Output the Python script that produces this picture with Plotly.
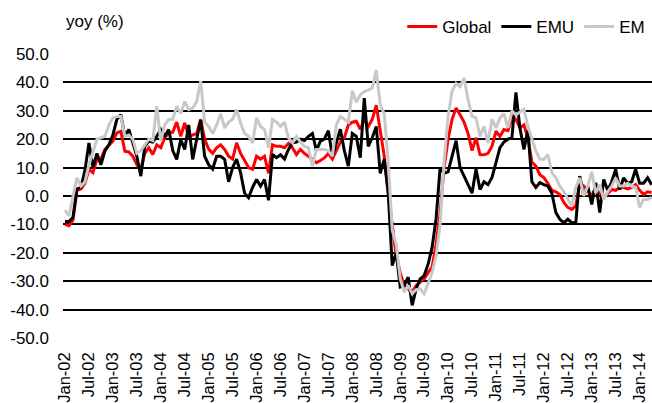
import pandas as pd
import plotly.graph_objects as go

# Monthly year-on-year growth, Jan-02 to Apr-14
months = list(pd.date_range("2002-01-01", periods=148, freq="MS").strftime("%b-%y"))

global_yoy = [
    -10, -10.5, -8.5, 2, 2.5, 4.5, 9.4, 8.2, 12.9, 13, 16.4, 18,
    19.3, 22.2, 22.8, 15.8, 15.5, 14, 11, 9.4, 15, 17, 14.6, 18,
    17, 20.5, 22.2, 22.5, 26, 21, 25.7, 21, 21.5, 22, 27, 20,
    16.5, 15, 17, 18, 16.4, 14, 13, 18.7, 15, 12.5, 10, 9.4,
    14, 13, 14, 8, 18, 17.5, 17.5, 17, 18.5, 17, 14.6, 16.4,
    15, 14, 13, 11.7, 12.5, 13.4, 15, 13, 16, 19, 20.5, 25,
    26, 26.3, 23.5, 26.8, 24.5, 27, 32, 23, 14, 1, -11, -21,
    -27, -31.5, -32.7, -33.8, -31.5, -30.3, -29.2, -27, -25, -17, -6, 10,
    20, 27, 31, 28.6, 26, 22, 16, 20.5, 14.6, 14.5, 15, 17.5,
    22.8, 21, 23.4, 23, 27.5, 27, 24, 25, 20.5, 12, 10.5, 7.5,
    6.5, 4.5, 2, 1.5, 0.5, -2.3, -4, -4.7, -3.5, 4.7, 3.5, 1.8,
    0, 3, 0.5, -0.5, 1, 2.3, 2, 3, 3, 2.5, 3, 4,
    2, 0.5, 1.5, 1.2,
]

emu_yoy = [
    -9, -9, -7.5, 2.5, 3, 9, 18.7, 10, 15, 11, 15.8, 18,
    21.5, 27, 28.6, 21, 23.4, 19, 14, 7, 17.5, 19.3, 19, 21,
    23.4, 21, 23.4, 16, 12.9, 19.9, 16.4, 25, 12.9, 20, 26.7, 14,
    11, 9.5, 14, 14, 12.9, 5, 10, 13, 8.2, 1, -0.6, 3,
    5.8, 3.5, 5.8, -1.5, 14.6, 13.5, 14.5, 13, 16.4, 18.7, 19, 20,
    19.5, 21, 22, 16, 19.3, 20, 23, 14, 19, 23.5, 16, 10.5,
    22, 21, 13.5, 34.5, 17.5, 20.5, 24.5, 8, 13, 1, -24.5, -20,
    -32, -31.5, -28.6, -38.5, -32.7, -29.2, -28, -24, -18, -8, 10, 8,
    8.5, 14, 19.5, 10, 7, 4, 1, 9.5, 2.3, 5, 4, 6.5,
    12, 17, 19, 20, 20.5, 36.5, 24, 16.4, 23, 5, 3, 4.7,
    4, 3.5, 1, -5.8, -8.2, -9.4, -8.2, -9.4, -9.4, 7, 0, 3.5,
    -3, 4.7, -5.8, 5.8, 2, 5, 9.4, 2.3, 6.4, 4.5, 5, 9.4,
    4.5, 4.5, 6.4, 4,
]

em_yoy = [
    -5, -7, 0, 6.4, 3.5, 5, 11, 15.8, 20, 20.5, 21, 25,
    27.5, 28, 28, 21, 21.5, 20, 15, 16, 18, 20, 19.5, 31.6,
    19.3, 25, 27, 27, 31.6, 29, 33.3, 30.4, 31, 33.3, 40.4, 26,
    24.5, 22, 25, 29, 24, 26, 27, 30.4, 25.7, 22, 21, 18.7,
    27.5, 24.5, 23.4, 17, 27, 26, 24.5, 26, 20.5, 18.7, 21, 19,
    17.5, 17, 10.5, 16.4, 16.4, 16.4, 16, 14, 25, 28, 27, 26,
    37, 33, 35.6, 36.8, 37.3, 38, 44.3, 32, 29, 12, -12, -17,
    -29, -33.8, -31.5, -34.4, -33, -32.7, -34.4, -31, -27, -21, -10, 12,
    28, 37, 39.7, 38.5, 41.5, 34, 28, 27.5, 21, 24.5, 18.7, 27,
    24, 27.5, 29, 24, 30, 28.5, 29.5, 30.5, 24.5, 20, 15.8, 13,
    12.9, 14.6, 8.2, 6.4, 3.5, 1.5, -1.2, -3.5, 3, 6.4, 0, 3.5,
    8.5, 1, 4, -1.2, 1.5, 3.5, 6.4, 3.5, 3.5, 4.5, 3.5, 3,
    -4, -1.2, -1.2, -0.5,
]

series_names = ["Global", "EMU", "EM"]
series_colors = ["#ff0000", "#000000", "#c8c8c8"]
y_ticks = [-50, -40, -30, -20, -10, 0, 10, 20, 30, 40, 50]
x_ticks = months[::6]

FONT = "Liberation Sans, Arial, sans-serif"

fig = go.Figure()
for name, values, color in zip(series_names, [global_yoy, emu_yoy, em_yoy], series_colors):
    fig.add_trace(go.Scatter(
        x=months, y=values, name=name, mode="lines",
        line=dict(color=color, width=3),
    ))

fig.update_layout(
    width=652, height=403,
    margin=dict(l=63, r=0, t=54, b=63),
    paper_bgcolor="white", plot_bgcolor="white",
    font=dict(family=FONT, size=17, color="#000000"),
    showlegend=True,
    legend=dict(
        orientation="h", x=0.997, xanchor="right", y=1.095, yanchor="middle",
        font=dict(family=FONT, size=17), bgcolor="rgba(0,0,0,0)",
        itemwidth=30, tracegroupgap=0,
    ),
    annotations=[dict(
        text="yoy (%)", xref="paper", yref="paper", x=0, y=1,
        xanchor="left", yanchor="middle", xshift=1, yshift=33,
        showarrow=False, font=dict(family=FONT, size=17),
    )],
)

fig.update_xaxes(
    type="category", range=[-0.5, 147.1],
    tickmode="array", tickvals=x_ticks, ticktext=x_ticks,
    tickangle=-90, showgrid=False, zeroline=False, showline=False,
    ticks="", ticklabelstandoff=10,
    tickfont=dict(family=FONT, size=16.5),
)
fig.update_yaxes(
    range=[-50, 50], tickmode="array", tickvals=y_ticks,
    ticktext=[f"{v:.1f}" for v in y_ticks],
    showgrid=True, gridcolor="#000000", gridwidth=2,
    zeroline=False, showline=False, ticks="", ticklabelstandoff=13,
    tickfont=dict(family=FONT, size=17),
)

fig.write_html("out.html")
